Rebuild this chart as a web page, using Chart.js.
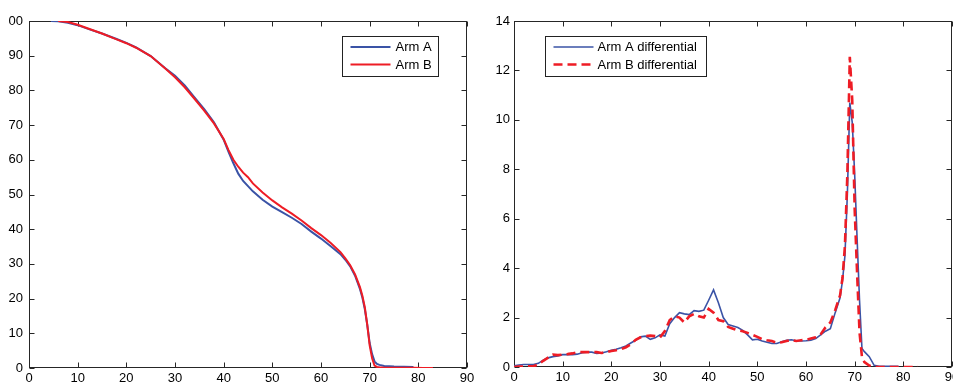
<!DOCTYPE html>
<html>
<head>
<meta charset="utf-8">
<script src="https://cdn.jsdelivr.net/npm/chart.js@4"></script>
<style>
  body { margin: 0; background: #fff; width: 953px; height: 383px; overflow: hidden; position: relative; }
  canvas { position: absolute; top: 0; }
  #survival { left: 0; }
  #differential { left: 480px; }
</style>
</head>
<body>
<canvas id="survival" width="480" height="383"></canvas>
<canvas id="differential" width="473" height="383"></canvas>
<script>
// left panel: cumulative curves
const survivalDays = [4.5, 6, 8, 10, 12, 15, 18, 20, 22, 25, 28, 30, 32, 34, 36, 38, 40, 41, 42, 43, 44, 45, 46, 48, 50, 52, 54, 56, 58, 60, 62, 64, 65, 66, 67, 68, 68.5, 69, 69.5, 70, 70.5, 71, 71.5, 72, 73, 75, 77, 79, 81, 83];
const survivalArmA = [100, 99.9, 99.5, 98.8, 97.8, 96.4, 94.8, 93.7, 92.4, 89.9, 86.4, 84.2, 81.4, 78.0, 74.6, 70.8, 65.8, 62.3, 59.0, 56.0, 53.9, 52.4, 50.9, 48.5, 46.5, 44.9, 43.3, 41.5, 39.3, 37.3, 35.1, 32.8, 31.2, 29.3, 26.6, 22.8, 20.3, 17.0, 12.5, 7.2, 4.0, 1.9, 1.2, 0.9, 0.6, 0.4, 0.35, 0.3, null, null];
const survivalArmB = [null, 100, 99.7, 98.9, 97.9, 96.4, 94.7, 93.6, 92.3, 89.9, 86.3, 83.8, 80.9, 77.6, 74.2, 70.5, 66.0, 62.8, 60.0, 58.0, 56.3, 55.0, 53.2, 50.6, 48.3, 46.3, 44.5, 42.5, 40.3, 38.3, 36.0, 33.4, 31.6, 29.6, 27.0, 23.3, 20.8, 17.5, 12.5, 6.5, 2.8, 0.7, 0.3, 0.2, 0.1, 0.1, 0.05, 0.05, 0, 0];
const survivalTickLabels = ['0', '10', '20', '30', '40', '50', '60', '70', '80', '90', '00'];

// right panel: differential curves
const diffDays = [0, 1, 2, 3, 4, 5, 6, 7, 8, 9, 10, 11, 12, 13, 14, 15, 16, 17, 18, 19, 20, 21, 22, 23, 24, 25, 26, 27, 28, 29, 30, 31, 32, 33, 34, 35, 36, 37, 38, 39, 40, 41, 42, 43, 44, 45, 46, 47, 48, 49, 50, 51, 52, 53, 54, 55, 56, 57, 58, 59, 60, 61, 62, 63, 64, 65, 66, 67, 67.5, 68, 68.5, 69, 69.5, 70, 70.5, 71, 71.5, 72, 73, 74, 75, 76, 77, 78, 79, 80, 81, 82, 83];
const diffArmA = [0.05, 0.08, 0.1, 0.1, 0.1, 0.15, 0.28, 0.37, 0.42, 0.45, 0.5, 0.5, 0.5, 0.52, 0.58, 0.6, 0.6, 0.55, 0.57, 0.62, 0.68, 0.72, 0.78, 0.85, 0.97, 1.08, 1.22, 1.25, 1.12, 1.18, 1.3, 1.25, 1.75, 2.0, 2.2, 2.15, 2.12, 2.28, 2.25, 2.3, 2.7, 3.12, 2.6, 2.0, 1.72, 1.66, 1.6, 1.48, 1.3, 1.1, 1.12, 1.05, 1.0, 0.95, 0.95, 1.02, 1.08, 1.1, 1.06, 1.05, 1.06, 1.08, 1.15, 1.3, 1.45, 1.55, 2.2, 2.8, 3.5, 4.5, 7.0, 10.7, 9.9, 7.8, 5.2, 2.7, 0.75, 0.62, 0.42, 0.07, 0.03, 0.03, 0.03, 0.03, 0.03, null, null, null, null];
const diffArmB = [0, 0.02, 0.02, 0.03, 0.03, 0.1, 0.25, 0.38, 0.5, 0.48, 0.5, 0.52, 0.55, 0.6, 0.6, 0.6, 0.6, 0.6, 0.57, 0.6, 0.65, 0.68, 0.72, 0.8, 0.92, 1.1, 1.2, 1.25, 1.27, 1.25, 1.2, 1.45, 1.9, 2.05, 2.0, 1.8, 2.05, 2.15, 2.05, 2.0, 2.35, 2.2, 1.9, 1.85, 1.62, 1.55, 1.48, 1.45, 1.38, 1.3, 1.22, 1.12, 1.08, 1.05, 0.98, 1.0, 1.05, 1.1, 1.05, 1.08, 1.1, 1.15, 1.2, 1.32, 1.6, 1.8, 2.3, 2.9, 3.6, 4.9, 7.8, 12.55, 10.8, 6.4, 3.8, 1.4, 0.4, 0.2, 0.06, 0.01, 0, 0, 0, 0, 0, 0, 0, 0, 0];

const BLUE = '#3a53a6';
const RED = '#ee1c25';
const tickFont = { family: 'Liberation Sans', size: 13 };

function points(xs, ys) {
    return xs.map((x, i) => ({ x: x, y: ys[i] }));
}

// box around the plot with ticks pointing inwards on all four sides
const framePlugin = {
    id: 'frame',
    beforeDatasetsDraw(chart) {
        const { ctx, chartArea: a, scales: { x, y } } = chart;
        const L = Math.round(a.left) + 0.5, R = Math.round(a.right) - 0.5;
        const T = Math.round(a.top) + 0.5, B = Math.round(a.bottom) - 0.5;
        ctx.save();
        ctx.strokeStyle = '#262626';
        ctx.lineWidth = 1;
        ctx.beginPath();
        x.ticks.forEach(t => {
            const px = Math.round(x.getPixelForValue(t.value)) + 0.5;
            ctx.moveTo(px, B); ctx.lineTo(px, B - 5);
            ctx.moveTo(px, T); ctx.lineTo(px, T + 5);
        });
        y.ticks.forEach(t => {
            const py = Math.round(y.getPixelForValue(t.value)) + 0.5;
            ctx.moveTo(L, py); ctx.lineTo(L + 5, py);
            ctx.moveTo(R, py); ctx.lineTo(R - 5, py);
        });
        ctx.stroke();
        ctx.strokeRect(L, T, R - L, B - T);
        ctx.restore();
    }
};

// legend with a framed box, placed inside the plot area
const boxLegend = {
    id: 'boxLegend',
    afterDraw(chart, args, opts) {
        const { ctx, chartArea: a } = chart;
        const bx = Math.round(a.left + opts.left) + 0.5;
        const by = Math.round(a.top + opts.top) + 0.5;
        ctx.save();
        ctx.fillStyle = '#fff';
        ctx.fillRect(bx, by, opts.width, opts.height);
        ctx.strokeStyle = '#222';
        ctx.lineWidth = 1;
        ctx.strokeRect(bx, by, opts.width, opts.height);
        ctx.font = '13px "Liberation Sans"';
        ctx.textBaseline = 'middle';
        ctx.fillStyle = '#000';
        chart.data.datasets.forEach((ds, i) => {
            const ry = by + 10.5 + i * 17.5;
            ctx.save();
            ctx.strokeStyle = ds.borderColor;
            ctx.lineWidth = ds.borderWidth;
            ctx.setLineDash(ds.borderDash || []);
            ctx.beginPath();
            ctx.moveTo(bx + opts.lineStart, ry);
            ctx.lineTo(bx + opts.lineStart + 40, ry);
            ctx.stroke();
            ctx.restore();
            ctx.fillText(ds.label, bx + opts.textStart, ry + 0.5);
        });
        ctx.restore();
    }
};

function axes(yMax, yStep, yWidth, yPad, xHeight, yCallback) {
    return {
        x: {
            type: 'linear', min: 0, max: 90,
            grid: { display: false, drawTicks: false }, border: { display: false },
            ticks: { stepSize: 10, autoSkip: false, maxRotation: 0, padding: 3, color: '#000', font: tickFont },
            afterFit(s) { s.height = xHeight; s.paddingLeft = 0; s.paddingRight = 0; }
        },
        y: {
            min: 0, max: yMax,
            grid: { display: false, drawTicks: false }, border: { display: false },
            ticks: { stepSize: yStep, padding: yPad, color: '#000', font: tickFont, callback: yCallback },
            afterFit(s) { s.width = yWidth; s.paddingTop = 0; s.paddingBottom = 0; }
        }
    };
}

new Chart(document.getElementById('survival'), {
    type: 'line',
    data: {
        datasets: [
            { label: 'Arm A', data: points(survivalDays, survivalArmA), borderColor: BLUE, borderWidth: 2, pointRadius: 0, order: 2 },
            { label: 'Arm B', data: points(survivalDays, survivalArmB), borderColor: RED, borderWidth: 2, pointRadius: 0, order: 1 }
        ]
    },
    options: {
        responsive: false,
        animation: false,
        layout: { padding: { top: 21, right: 13, left: 0, bottom: 0 } },
        scales: axes(100, 10, 29, 6, 15, (v, i) => survivalTickLabels[i]),
        plugins: {
            legend: { display: false },
            tooltip: { enabled: false },
            boxLegend: { left: 313, top: 15, width: 96, height: 40, lineStart: 8, textStart: 53 }
        }
    },
    plugins: [framePlugin, boxLegend]
});

new Chart(document.getElementById('differential'), {
    type: 'line',
    data: {
        datasets: [
            { label: 'Arm A differential', data: points(diffDays, diffArmA), borderColor: BLUE, borderWidth: 1.6, pointRadius: 0, order: 2 },
            { label: 'Arm B differential', data: points(diffDays, diffArmB), borderColor: RED, borderWidth: 2.6, borderDash: [9, 5], pointRadius: 0, order: 1 }
        ]
    },
    options: {
        responsive: false,
        animation: false,
        layout: { padding: { top: 21, right: 1, left: 0, bottom: 0 } },
        scales: axes(14, 2, 34, 4, 16),
        plugins: {
            legend: { display: false },
            tooltip: { enabled: false },
            boxLegend: { left: 31, top: 15, width: 161, height: 40, lineStart: 8, textStart: 52 }
        }
    },
    plugins: [framePlugin, boxLegend]
});
</script>
</body>
</html>
